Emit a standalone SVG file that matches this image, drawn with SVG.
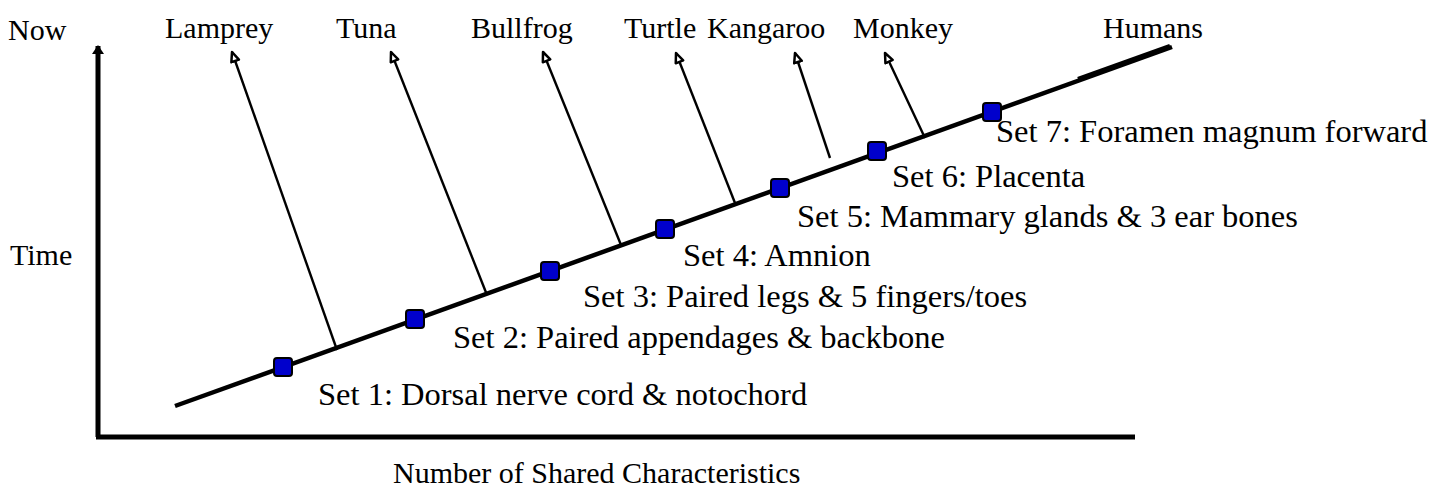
<svg xmlns="http://www.w3.org/2000/svg" width="1445" height="493" viewBox="0 0 1445 493">
<style>
text{font-family:"Liberation Serif","Times New Roman",serif;font-size:30px;fill:#000}
.set{font-size:32.5px}
.axis{stroke:#000;stroke-width:5;fill:none}
.main{stroke:#000;stroke-width:4.5;fill:none}
.br{stroke:#000;stroke-width:2.4;fill:none;marker-end:url(#openArrow)}
.sq{fill:#0000cc;stroke:#000;stroke-width:2}
</style>
<defs>
<marker id="openArrow" markerUnits="userSpaceOnUse" markerWidth="16" markerHeight="14" refX="11" refY="5.5" orient="auto">
<path d="M1.5,1.5 L11,5.5 L1.5,9.5 Z" fill="#fff" stroke="#000" stroke-width="2.5" stroke-linejoin="round"/>
</marker>
<marker id="axisArrow" markerUnits="userSpaceOnUse" markerWidth="14" markerHeight="14" refX="8" refY="6" orient="auto">
<path d="M0,0 L9,6 L0,12 Z" fill="#000"/>
</marker>
</defs>
<g id="axes">
<line class="axis" x1="98" y1="437" x2="98" y2="46" marker-end="url(#axisArrow)"/>
<line class="axis" x1="96" y1="437" x2="1135" y2="437"/>
<text x="8" y="40">Now</text>
<text x="10" y="265">Time</text>
<text x="393" y="483">Number of Shared Characteristics</text>
</g>
<g id="connectors">
<line class="main" x1="175" y1="406" x2="1172" y2="47"/>
<line class="main" x1="1078" y1="79" x2="1170" y2="46"/>
<line class="br" x1="337" y1="350" x2="232" y2="52"/>
<line class="br" x1="487" y1="295" x2="391" y2="52"/>
<line class="br" x1="621" y1="245" x2="543" y2="52"/>
<line class="br" x1="735" y1="203" x2="676" y2="53"/>
<line class="br" x1="830" y1="158" x2="795" y2="53"/>
<line class="br" x1="925" y1="138" x2="885" y2="53"/>
</g>
<g id="taxa">
<text x="165" y="38">Lamprey</text>
<text x="336" y="38">Tuna</text>
<text x="471" y="38">Bullfrog</text>
<text x="624" y="38">Turtle</text>
<text x="707" y="38">Kangaroo</text>
<text x="853" y="38">Monkey</text>
<text x="1103" y="38">Humans</text>
</g>
<g id="set1"><rect class="sq" x="274" y="358" width="18" height="18" rx="3"/><text class="set" x="318" y="405">Set 1: Dorsal nerve cord &amp; notochord</text></g>
<g id="set2"><rect class="sq" x="406" y="310" width="18" height="18" rx="3"/><text class="set" x="453" y="348">Set 2: Paired appendages &amp; backbone</text></g>
<g id="set3"><rect class="sq" x="541" y="262" width="18" height="18" rx="3"/><text class="set" x="583" y="307">Set 3: Paired legs &amp; 5 fingers/toes</text></g>
<g id="set4"><rect class="sq" x="656" y="220" width="18" height="18" rx="3"/><text class="set" x="683" y="266">Set 4: Amnion</text></g>
<g id="set5"><rect class="sq" x="771" y="179" width="18" height="18" rx="3"/><text class="set" x="797" y="227">Set 5: Mammary glands &amp; 3 ear bones</text></g>
<g id="set6"><rect class="sq" x="868" y="142" width="18" height="18" rx="3"/><text class="set" x="892" y="187">Set 6: Placenta</text></g>
<g id="set7"><rect class="sq" x="983" y="103" width="18" height="18" rx="3"/><text class="set" x="996" y="142">Set 7: Foramen magnum forward</text></g>
</svg>
